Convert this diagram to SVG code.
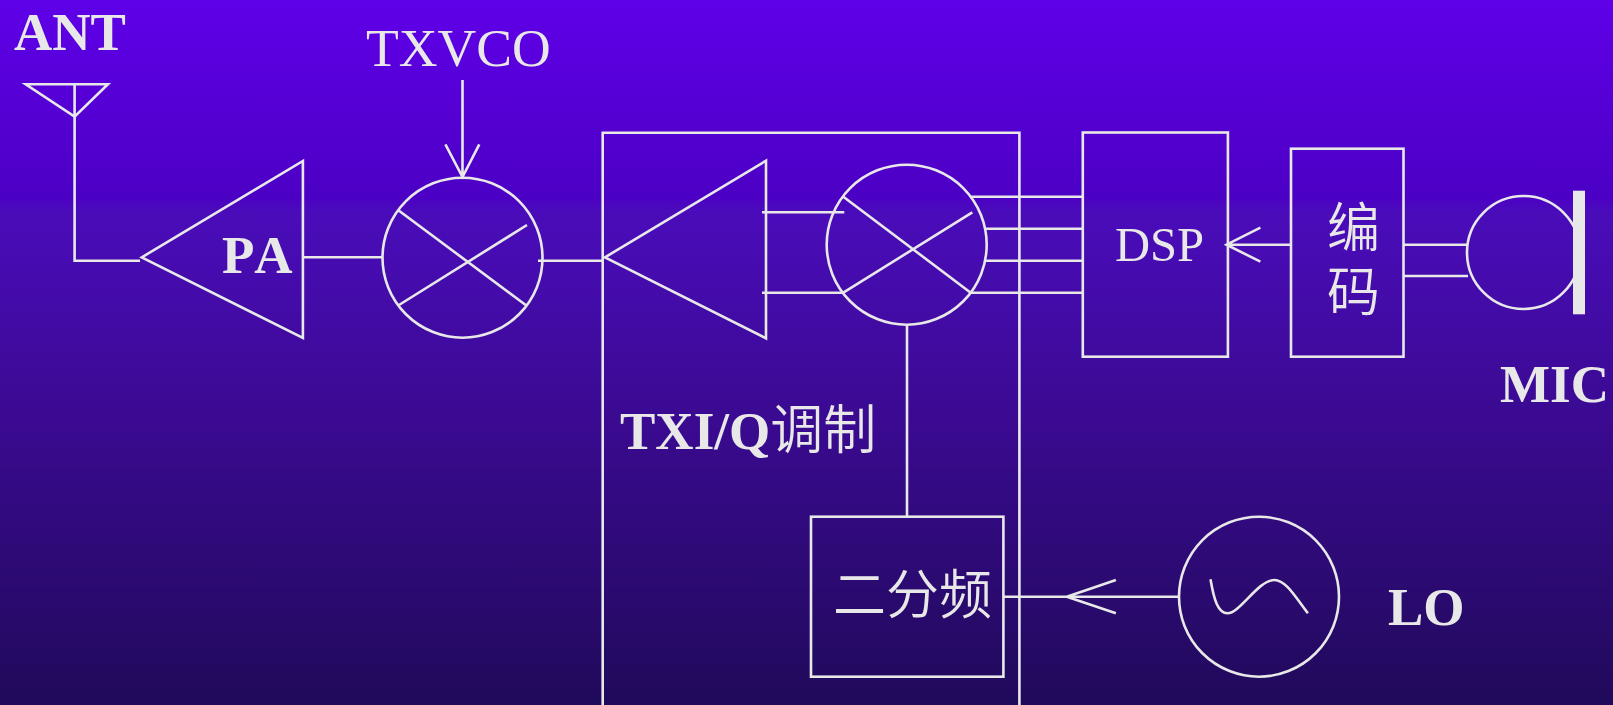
<svg xmlns="http://www.w3.org/2000/svg" width="1613" height="705" viewBox="0 0 1613 705">
<defs>
<linearGradient id="bg" x1="0" y1="0" x2="0" y2="1">
<stop offset="0" stop-color="#5f00e8"/>
<stop offset="0.28" stop-color="#4c00c4"/>
<stop offset="0.3" stop-color="#4a0cba"/>
<stop offset="0.6" stop-color="#3a0a90"/>
<stop offset="1" stop-color="#200a5a"/>
</linearGradient>
<style>
.s{fill:none;stroke:#e8e8e8;stroke-width:2.6;stroke-linejoin:miter}
.t{fill:#e8e8e8;font-family:"Liberation Serif","Noto Sans CJK SC",serif;font-size:53px;font-kerning:none}
.b{font-weight:bold}
.c{font-family:"Noto Sans CJK SC","Liberation Serif",serif;font-weight:350}
</style>
</defs>
<rect width="1613" height="705" fill="url(#bg)"/>
<g id="connectors" class="s">
<path d="M74.6 116.7V260.7H140"/>
<path d="M303 257.3H382"/>
<path d="M462.5 80V177M445.4 144.3L462.5 177L479.3 144.3"/>
<path d="M538 260.7H604"/>
<path d="M762 212.3H844.3M762 292.7H843.3"/>
<path d="M970.7 196.7H1083M986 228.7H1083M986 260.7H1083M970.7 292.7H1083"/>
<path d="M907 325V516.7"/>
<path d="M1291 244.7H1226.5M1260.4 227.7L1226.5 244.7L1260.4 261.7"/>
<path d="M1403.5 244.7H1467M1403.5 276H1468"/>
<path d="M1178.4 596.7H1003.4M1115.9 580L1066.8 596.7L1115.9 613.3"/>
</g>
<g id="ant">
<path class="s" d="M25.7 84.3H107.9L74.6 116.7ZM74.6 84.3V116.7"/>
<text class="t b" x="14" y="50">ANT</text>
</g>
<g id="pa">
<path class="s" d="M141.8 257.3L302.9 161V338Z"/>
<text class="t b" x="222" y="273">PA</text>
</g>
<g id="txvco-mixer">
<circle class="s" cx="462.5" cy="257.7" r="80"/>
<path class="s" d="M398 210L525.7 305M399 305L527 225"/>
<text class="t" x="366" y="65.7" style="font-size:53.6px">TXVCO</text>
</g>
<g id="txiq">
<path class="s" d="M602.7 720V132.7H1019.4V720"/>
<text class="t b" x="620" y="449">TXI/Q<tspan class="c">调制</tspan></text>
</g>
<g id="amp">
<path class="s" d="M605 257.3L766 160.7V338.3Z"/>
</g>
<g id="iq-mixer">
<circle class="s" cx="906.7" cy="244.7" r="80"/>
<path class="s" d="M843.3 196.7L970.7 292.7M843.3 292.7L972.3 212.3"/>
</g>
<g id="dsp">
<rect class="s" x="1082.8" y="132.5" width="145.1" height="224.2"/>
<text class="t" x="1115" y="260.7" style="font-size:48.6px">DSP</text>
</g>
<g id="encoder">
<rect class="s" x="1291" y="148.7" width="112.5" height="208"/>
<text class="t c" style="font-size:53px"><tspan x="1327" y="247">编</tspan><tspan x="1327" y="311">码</tspan></text>
</g>
<g id="mic">
<circle class="s" cx="1523.5" cy="252.5" r="56.5"/>
<rect x="1573" y="190.7" width="12" height="123.6" fill="#e8e8e8"/>
<text class="t b" x="1500" y="401.7">MIC</text>
</g>
<g id="divider">
<rect class="s" x="811" y="516.7" width="192.4" height="160"/>
<text class="t c" x="833" y="614">二分频</text>
</g>
<g id="lo">
<circle class="s" cx="1259" cy="596.7" r="80"/>
<path class="s" d="M1210.5 579.3C1214 600 1218 613.3 1227.5 613.3C1240 613.3 1258 580 1274.4 580C1286 580 1296 598 1307.9 613.3"/>
<text class="t b" x="1388" y="625">LO</text>
</g>
</svg>
